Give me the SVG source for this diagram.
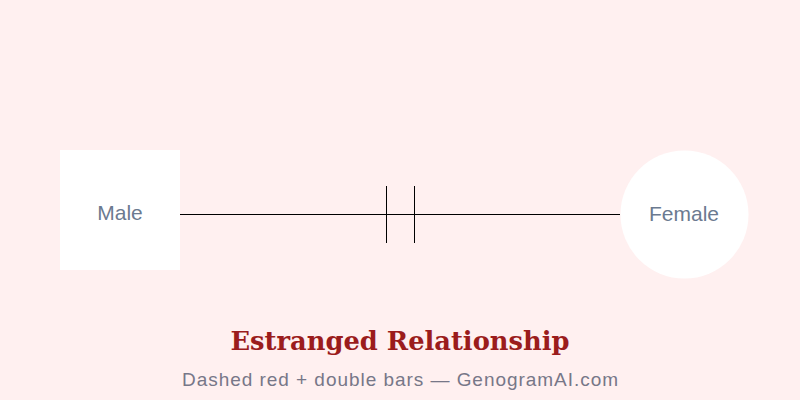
<svg xmlns="http://www.w3.org/2000/svg" width="800" height="400" viewBox="0 0 800 400">
<style>
.lbl{font-family:"Liberation Sans",Arial,sans-serif;font-size:21px;fill:#6b7a90;text-anchor:middle}
.node{fill:#ffffff}
.conn{stroke:#000000;stroke-width:1;fill:none}
</style>
<rect width="800" height="400" fill="#fff0f0"/>
<g id="connectors">
<line class="conn" x1="180" y1="214.5" x2="620" y2="214.5"/>
<line class="conn" x1="386.5" y1="186" x2="386.5" y2="243"/>
<line class="conn" x1="414.5" y1="186" x2="414.5" y2="243"/>
</g>
<g id="male">
<rect class="node" x="60" y="150" width="120" height="120"/>
<text class="lbl" x="120" y="220">Male</text>
</g>
<g id="female">
<circle class="node" cx="684.5" cy="214.5" r="64"/>
<text class="lbl" x="684" y="221">Female</text>
</g>
<text x="400" y="350" text-anchor="middle" font-family="'DejaVu Serif',serif" font-weight="bold" font-size="26" fill="#9b1c1c" textLength="339" lengthAdjust="spacingAndGlyphs">Estranged Relationship</text>
<text x="400" y="386" text-anchor="middle" font-family="'Liberation Sans',Arial,sans-serif" font-size="19" fill="#777788" textLength="436" lengthAdjust="spacing">Dashed red + double bars — GenogramAI.com</text>
</svg>
